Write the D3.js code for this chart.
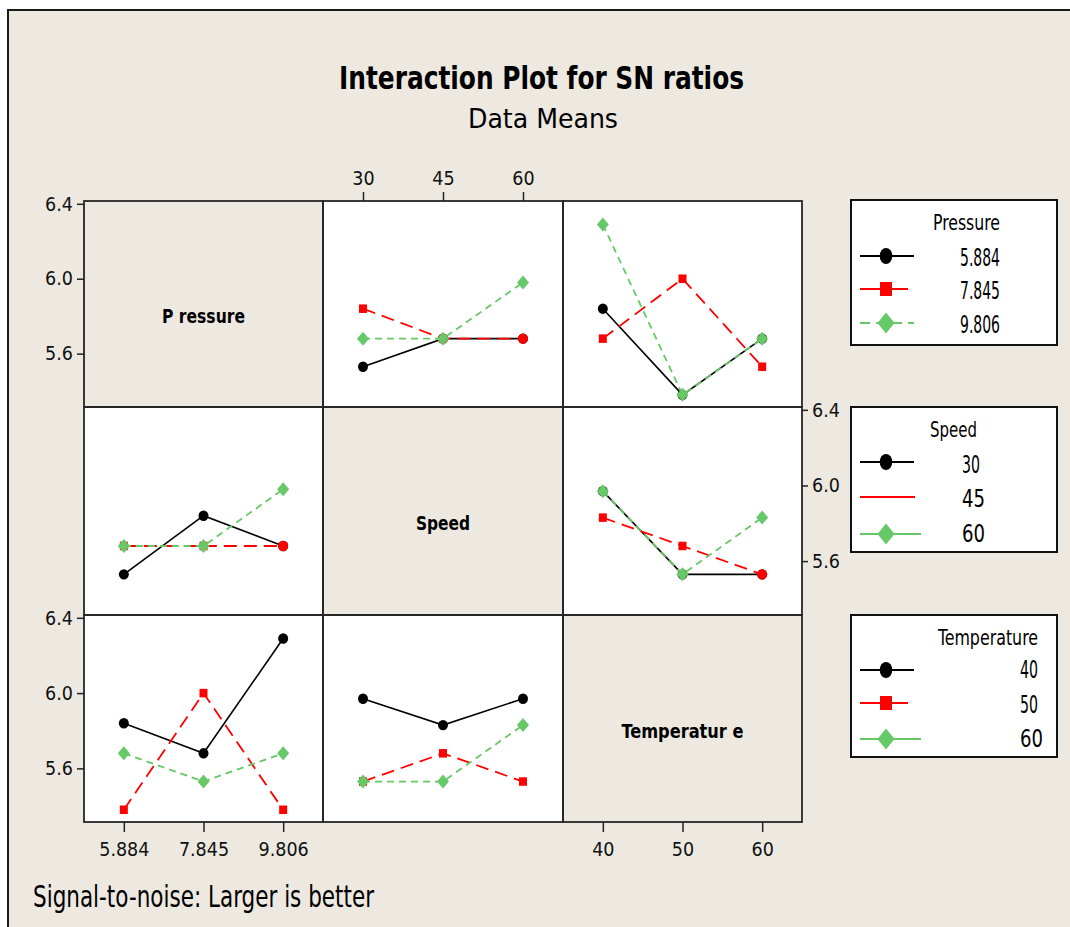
<!DOCTYPE html>
<html>
<head>
<meta charset="utf-8">
<script src="https://cdn.jsdelivr.net/npm/d3@7"></script>
<style>
  html, body { margin: 0; padding: 0; background: #fff; }
  svg { display: block; }
</style>
</head>
<body>
<svg id="chart" width="1070" height="927"></svg>
<script>
// ---- data -------------------------------------------------------------
const factors = ["Pressure", "Speed", "Temperature"];
const panelNames = ["P ressure", "Speed", "Temperatur e"];
const pressureLevels = ["5.884", "7.845", "9.806"];
const speedLevels = ["30", "45", "60"];
const temperatureLevels = ["40", "50", "60"];
const yTicks = [5.6, 6.0, 6.4];

// SN-ratio means, rows = levels of the first factor, columns = levels of the second
const pressureBySpeed = [
  [5.53, 5.68, 5.68],
  [5.84, 5.68, 5.68],
  [5.68, 5.68, 5.98]
];
const pressureByTemperature = [
  [5.84, 5.38, 5.68],
  [5.68, 6.00, 5.53],
  [6.29, 5.38, 5.68]
];
const speedByTemperature = [
  [5.97, 5.53, 5.53],
  [5.83, 5.68, 5.53],
  [5.97, 5.53, 5.83]
];

const levels = [pressureLevels, speedLevels, temperatureLevels];
const pairTables = { "0-1": pressureBySpeed, "0-2": pressureByTemperature, "1-2": speedByTemperature };

// means for the panel in row i (series = factor i) and column j (x = factor j)
function cellMeans(i, j) {
  if (i < j) return pairTables[i + "-" + j];
  const t = pairTables[j + "-" + i];
  return t[0].map((_, c) => t.map(r => r[c]));
}

// ---- layout -----------------------------------------------------------
const W = 1070, H = 927;
const BG = "#ede9e0";
const FONT = "'DejaVu Sans Condensed', 'DejaVu Sans', sans-serif";
const colEdges = [84, 323, 563, 802];
const rowEdges = [201, 407, 615, 822];

const svg = d3.select("#chart");

svg.append("rect").attr("width", W).attr("height", H).attr("fill", "#fff");
svg.append("rect")
  .attr("x", 8).attr("y", 10).attr("width", W).attr("height", H)
  .attr("fill", BG).attr("stroke", "#1a1a1a").attr("stroke-width", 2);

function addText(parent, s, o) {
  const t = parent.append("text")
    .text(s)
    .attr("font-family", FONT)
    .attr("font-size", o.size)
    .attr("font-weight", o.weight || "normal")
    .attr("font-stretch", "condensed")
    .attr("fill", o.fill || "#000")
    .attr("y", o.y);
  if (o.width) {
    let x0 = o.x;
    if (o.anchor === "middle") x0 = o.x - o.width / 2;
    if (o.anchor === "end") x0 = o.x - o.width;
    t.attr("x", x0).attr("text-anchor", "start")
      .attr("textLength", o.width).attr("lengthAdjust", "spacingAndGlyphs");
  } else {
    t.attr("x", o.x).attr("text-anchor", o.anchor || "start");
  }
  return t;
}

// titles
addText(svg, "Interaction Plot for SN ratios", { x: 541.5, y: 89, size: 32, weight: "bold", anchor: "middle", width: 405 });
addText(svg, "Data Means", { x: 543, y: 128, size: 27, anchor: "middle", width: 150 });
addText(svg, "Signal-to-noise: Larger is better", { x: 33, y: 907, size: 31, width: 341 });

// scales
const xScales = levels.map((lv, j) =>
  d3.scalePoint().domain(lv).range([colEdges[j], colEdges[j + 1]]).padding(0.5));
const yScales = [0, 1, 2].map(i =>
  d3.scaleLinear().domain([5.315, 6.415]).range([rowEdges[i + 1], rowEdges[i]]));

// series styles (one per level of the row factor)
const seriesStyle = [
  { color: "#000000", dash: null, width: 1.6, marker: "circle" },
  { color: "#ff0000", dash: "13,7", width: 1.8, marker: "square" },
  { color: "#66c866", dash: "7,5", width: 1.8, marker: "diamond" }
];

function drawMarker(g, type, cx, cy, color, big) {
  if (type === "circle") {
    g.append("ellipse").attr("cx", cx).attr("cy", cy)
      .attr("rx", big ? 6.3 : 5).attr("ry", big ? 8 : 5.2).attr("fill", color);
  } else if (type === "square") {
    const w = big ? 12 : 8, h = big ? 14 : 8.5;
    g.append("rect").attr("x", cx - w / 2).attr("y", cy - h / 2)
      .attr("width", w).attr("height", h).attr("fill", color);
  } else if (type === "diamond") {
    const w = big ? 17 : 12, h = big ? 21 : 14;
    g.append("path")
      .attr("d", `M${cx},${cy - h / 2}L${cx + w / 2},${cy}L${cx},${cy + h / 2}L${cx - w / 2},${cy}Z`)
      .attr("fill", color);
  }
}

// panel backgrounds
const panels = svg.append("g");
for (let i = 0; i < 3; i++) {
  for (let j = 0; j < 3; j++) {
    panels.append("rect")
      .attr("x", colEdges[j]).attr("y", rowEdges[i])
      .attr("width", colEdges[j + 1] - colEdges[j])
      .attr("height", rowEdges[i + 1] - rowEdges[i])
      .attr("fill", i === j ? BG : "#fff");
  }
}

// interaction lines
const marks = svg.append("g");
for (let i = 0; i < 3; i++) {
  for (let j = 0; j < 3; j++) {
    if (i === j) continue;
    const means = cellMeans(i, j);
    const x = xScales[j], y = yScales[i];
    means.forEach((row, s) => {
      const st = seriesStyle[s];
      const line = d3.line().x((d, k) => x(levels[j][k])).y(d => y(d));
      marks.append("path").attr("d", line(row))
        .attr("fill", "none").attr("stroke", st.color)
        .attr("stroke-width", st.width)
        .attr("stroke-dasharray", st.dash);
      row.forEach((v, k) => {
        // a red point sitting on a black one keeps the round symbol
        let type = st.marker;
        if (s === 1 && Math.abs(v - means[0][k]) < 1e-9) type = "circle";
        drawMarker(marks, type, x(levels[j][k]), y(v), st.color, false);
      });
    });
  }
}

// diagonal labels
for (let i = 0; i < 3; i++) {
  const cx = (colEdges[i] + colEdges[i + 1]) / 2;
  const cy = (rowEdges[i] + rowEdges[i + 1]) / 2;
  addText(svg, panelNames[i], { x: cx, y: cy + 19, size: 19, weight: "bold", anchor: "middle", width: [83, 54, 122][i] });
}

// panel borders
const borders = svg.append("g");
for (let i = 0; i < 3; i++) {
  for (let j = 0; j < 3; j++) {
    borders.append("rect")
      .attr("x", colEdges[j]).attr("y", rowEdges[i])
      .attr("width", colEdges[j + 1] - colEdges[j])
      .attr("height", rowEdges[i + 1] - rowEdges[i])
      .attr("fill", "none").attr("stroke", "#262626").attr("stroke-width", 1.8);
  }
}

// axes
function styleAxis(g) {
  g.attr("font-family", FONT).attr("font-size", 19.5);
  g.select(".domain").remove();
  g.selectAll(".tick line").attr("stroke", "#222").attr("stroke-width", 1.5);
  g.selectAll(".tick text").attr("fill", "#111").attr("font-stretch", "condensed");
}
const fmt = d3.format(".1f");
[0, 2].forEach(r => {
  svg.append("g").attr("transform", `translate(${colEdges[0]},0)`)
    .call(d3.axisLeft(yScales[r]).tickValues(yTicks).tickFormat(fmt).tickSize(7).tickPadding(4))
    .call(styleAxis);
});
svg.append("g").attr("transform", `translate(${colEdges[3]},0)`)
  .call(d3.axisRight(yScales[1]).tickValues(yTicks).tickFormat(fmt).tickSize(6).tickPadding(4))
  .call(styleAxis);
svg.append("g").attr("transform", `translate(0,${rowEdges[0]})`)
  .call(d3.axisTop(xScales[1]).tickSize(9).tickPadding(7))
  .call(styleAxis);
[0, 2].forEach(c => {
  svg.append("g").attr("transform", `translate(0,${rowEdges[3]})`)
    .call(d3.axisBottom(xScales[c]).tickSize(10).tickPadding(10.5))
    .call(styleAxis);
});

// legends, one per row factor
const legendLayout = [
  { y0: 200, y1: 345, title: { x: 966.5, y: 230, size: 21, w: 67 }, rowsY: [256, 289, 323],
    lineEnds: [914, 908, 914], dashed: [false, false, true], markers: ["circle", "square", "diamond"],
    labels: [{ x: 1000, y: 266, w: 40, a: "end", size: 24 }, { x: 1000, y: 299, w: 40, a: "end", size: 24 }, { x: 1000, y: 333, w: 40, a: "end", size: 24 }] },
  { y0: 407, y1: 552, title: { x: 953.5, y: 437, size: 21, w: 47 }, rowsY: [462, 497, 534],
    lineEnds: [914, 915, 921], dashed: [false, false, false], markers: ["circle", null, "diamond"],
    labels: [{ x: 962, y: 473, w: 18, a: "start", size: 25 }, { x: 962, y: 507, w: 23, a: "start", size: 25 }, { x: 962, y: 542, w: 23, a: "start", size: 25 }] },
  { y0: 615, y1: 757, title: { x: 988, y: 645, size: 22, w: 100 }, rowsY: [670, 703, 739],
    lineEnds: [914, 908, 921], dashed: [false, false, false], markers: ["circle", "square", "diamond"],
    labels: [{ x: 1038, y: 678, w: 18, a: "end", size: 24 }, { x: 1038, y: 713, w: 18, a: "end", size: 24 }, { x: 1043, y: 747, w: 23, a: "end", size: 25 }] }
];

legendLayout.forEach((L, f) => {
  const g = svg.append("g");
  g.append("rect").attr("x", 851).attr("y", L.y0).attr("width", 206).attr("height", L.y1 - L.y0)
    .attr("fill", "#fff").attr("stroke", "#111").attr("stroke-width", 2);
  addText(g, factors[f], { x: L.title.x, y: L.title.y, size: L.title.size, anchor: "middle", width: L.title.w });
  levels[f].forEach((lv, s) => {
    const st = seriesStyle[s];
    const yy = L.rowsY[s];
    g.append("line").attr("x1", 860).attr("x2", L.lineEnds[s]).attr("y1", yy).attr("y2", yy)
      .attr("stroke", st.color).attr("stroke-width", 2)
      .attr("stroke-dasharray", L.dashed[s] ? "10,6" : null);
    if (L.markers[s]) drawMarker(g, L.markers[s], 886, yy, st.color, true);
    const lb = L.labels[s];
    addText(g, lv, { x: lb.x, y: lb.y, size: lb.size, anchor: lb.a, width: lb.w });
  });
});
</script>
</body>
</html>
